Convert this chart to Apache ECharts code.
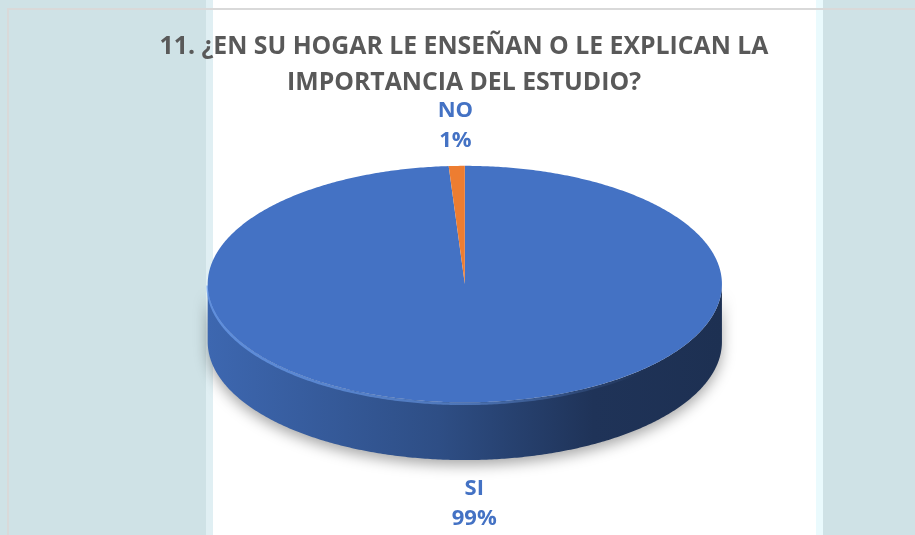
<!DOCTYPE html>
<html>
<head>
<meta charset="utf-8">
<script src="https://cdn.jsdelivr.net/npm/echarts@6/dist/echarts.min.js"></script>
<style>
  html, body { margin: 0; padding: 0; }
  #main {
    width: 915px; height: 535px; position: relative;
    background: linear-gradient(to right, #cfe2e6 0, #cfe2e6 206px, #e0eff3 206px, #e0eff3 213px,
      #ffffff 213px, #ffffff 816px, #eafafd 816px, #eafafd 823px, #cfe2e6 823px);
  }
  #frame {
    position: absolute; left: 7px; top: 8px; right: 0; bottom: 0;
    border-left: 2px solid #d9d9d9; border-top: 2px solid #d9d9d9;
  }
  #chart { position: absolute; left: 0; top: 0; width: 915px; height: 535px; }
</style>
</head>
<body>
<div id="main"><div id="frame"></div><div id="chart"></div></div>
<script>
const categories = ['SI', 'NO'];
const values = [99, 1];
const sliceColors = ['#4472C4', '#ED7D31'];
const titleLines = ['11. ¿EN SU HOGAR LE ENSEÑAN O LE EXPLICAN LA', 'IMPORTANCIA DEL ESTUDIO?'];

const chart = echarts.init(document.getElementById('chart'), null, { renderer: 'canvas' });

const total = values.reduce((a, b) => a + b, 0);

function shade(hex, f) {
  const c = echarts.color.parse(hex);
  return 'rgb(' + [0, 1, 2].map(i => Math.round(c[i] * f)).join(',') + ')';
}

function arcPts(g, a1, a2, dy) {
  const n = Math.max(2, Math.ceil(Math.abs(a2 - a1) / 0.01));
  const pts = [];
  for (let k = 0; k <= n; k++) {
    const a = a1 + (a2 - a1) * k / n;
    pts.push([g.cx + g.rx * Math.cos(a), g.cy + g.ry * Math.sin(a) + dy]);
  }
  return pts;
}

function renderSlice(params, api) {
  const w = api.getWidth(), h = api.getHeight();
  const g = { cx: w * 0.508, cy: h * 0.531, rx: w * 0.281, ry: h * 0.221, d: h * 0.108 };
  const i = params.dataIndex;
  let before = 0;
  for (let k = 0; k < i; k++) before += values[k];
  // start at 12 o'clock, clockwise
  const a1 = -Math.PI / 2 + before / total * Math.PI * 2;
  const a2 = a1 + api.value(1) / total * Math.PI * 2;
  const col = sliceColors[i % sliceColors.length];
  const children = [];

  // side wall, only on the front half
  for (let k = -1; k <= 1; k++) {
    const lo = Math.max(a1, Math.PI * 2 * k);
    const hi = Math.min(a2, Math.PI * 2 * k + Math.PI);
    if (hi <= lo) continue;
    const pts = arcPts(g, lo, hi, 0).concat(arcPts(g, lo, hi, g.d).reverse());
    children.push({
      type: 'polygon',
      shape: { points: pts },
      style: {
        fill: {
          type: 'linear', global: true,
          x: g.cx - g.rx, y: 0, x2: g.cx + g.rx, y2: 0,
          colorStops: [
            { offset: 0, color: shade(col, 0.9) },
            { offset: 0.45, color: shade(col, 0.68) },
            { offset: 0.75, color: shade(col, 0.45) },
            { offset: 1, color: shade(col, 0.42) }
          ]
        },
        shadowBlur: 14, shadowOffsetY: 5, shadowColor: 'rgba(0,0,0,0.35)'
      }
    });
    // soft light rim along the front edge of the top face
    children.push({
      type: 'polyline',
      shape: { points: arcPts(g, lo, hi, 1.5) },
      style: {
        fill: null, lineWidth: 2.5,
        stroke: {
          type: 'linear', global: true,
          x: g.cx - g.rx, y: 0, x2: g.cx + g.rx, y2: 0,
          colorStops: [
            { offset: 0, color: 'rgba(110,160,240,0.7)' },
            { offset: 0.5, color: 'rgba(110,160,240,0.5)' },
            { offset: 0.85, color: 'rgba(110,160,240,0)' },
            { offset: 1, color: 'rgba(110,160,240,0)' }
          ]
        }
      }
    });
  }

  // top face
  children.push({
    type: 'polygon',
    shape: { points: [[g.cx, g.cy]].concat(arcPts(g, a1, a2, 0)) },
    style: { fill: col }
  });

  // label
  const m = (a1 + a2) / 2;
  const off = 42;
  const pct = Math.round(api.value(1) / total * 100);
  children.push({
    type: 'text',
    x: g.cx + (g.rx + off) * Math.cos(m),
    y: g.cy + (g.ry + off) * Math.sin(m) + (Math.sin(m) > 0 ? g.d : 0) + 1.5,
    style: {
      text: categories[i] + '\n' + pct + '%',
      fill: '#4472C4',
      fontFamily: 'Open Sans',
      fontWeight: 'bold',
      fontSize: 22,
      lineHeight: 30,
      align: 'center',
      verticalAlign: 'middle'
    }
  });

  return { type: 'group', children: children };
}

chart.setOption({
  animation: false,
  backgroundColor: 'transparent',
  graphic: [{
    type: 'text',
    x: 464, y: 29,
    style: {
      text: titleLines.join('\n'),
      fill: '#595959',
      fontFamily: 'Open Sans',
      fontWeight: 'bold',
      fontSize: 24.8,
      lineHeight: 36,
      align: 'center'
    }
  }],
  series: [{
    type: 'custom',
    coordinateSystem: 'none',
    renderItem: renderSlice,
    data: categories.map((c, i) => [i, values[i]])
  }]
});
</script>
</body>
</html>
